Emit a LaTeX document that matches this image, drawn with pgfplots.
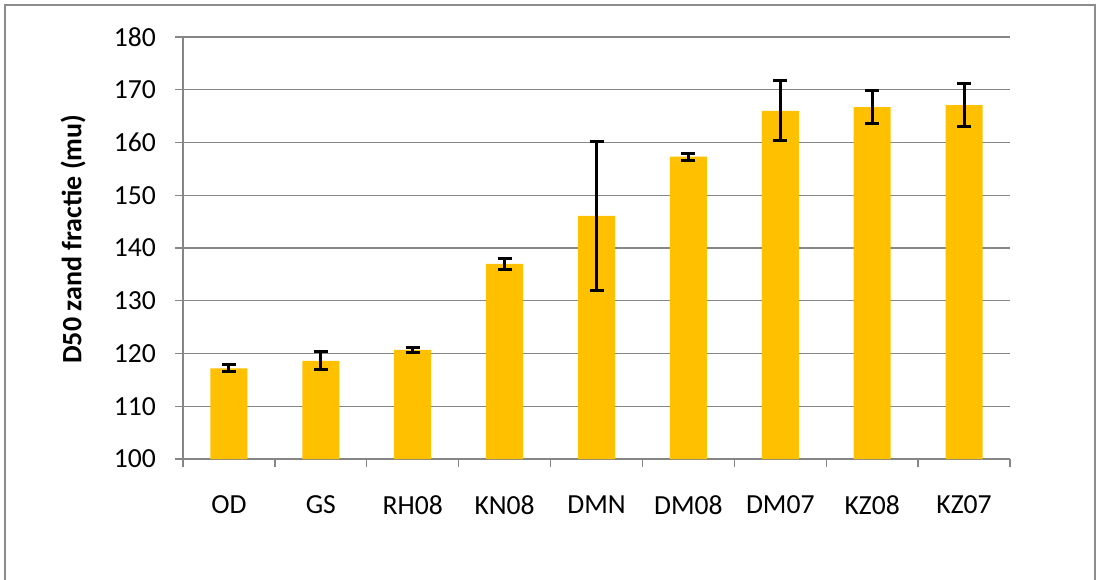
\documentclass[border=0pt]{standalone}
\usepackage{pgfplots}
\pgfplotsset{compat=1.18}
\usetikzlibrary{calc}
\usepackage{fontspec}
\setmainfont{Carlito}
\definecolor{barfill}{HTML}{FFC000}
\definecolor{gridgray}{HTML}{868686}
\definecolor{framegray}{HTML}{8C8C8C}

\begin{document}
\begin{tikzpicture}
\begin{axis}[
  scale only axis,
  width=413.5pt, height=211pt,
  xmin=0.5, xmax=9.5,
  ymin=100, ymax=180,
  ytick={100,110,...,180},
  xtick={1,...,9},
  xticklabels={OD,GS,RH08,KN08,DMN,DM08,DM07,KZ08,KZ07},
  minor xtick={0.5,1.5,...,9.5},
  major x tick style={draw=none},
  minor x tick style={gridgray, line width=0.7pt},
  y tick style={gridgray, line width=0.7pt},
  tick align=outside,
  major tick length=4pt,
  minor tick length=4pt,
  axis x line*=bottom,
  axis y line*=left,
  axis line style={gridgray, line width=0.7pt, -},
  ymajorgrids,
  grid style={gridgray, line width=0.7pt},
  /pgf/number format/assume math mode=true,
  ticklabel style={font=\fontsize{13.8pt}{15pt}\selectfont, black},
  yticklabel style={xshift=-6pt},
  xticklabel style={yshift=-11pt},
  ylabel={\bfseries D50 zand fractie (mu)},
  ylabel style={font=\fontsize{14pt}{16pt}\selectfont, at={(axis description cs:-0.133,0.521)}, anchor=center},
  clip=false,
]
\addplot[ybar, bar width=18.5pt, fill=barfill, draw=none,
  error bars/.cd, y dir=both, y explicit,
  error bar style={black, line width=1.5pt},
  error mark options={black, line width=1.5pt, mark size=3.5pt, rotate=90}]
  table[x=x, y=y, y error=e] {
  x y     e
  1 117.2 0.7
  2 118.6 1.7
  3 120.7 0.5
  4 137.0 1.1
  5 146.1 14.1
  6 157.3 0.7
  7 166.0 5.7
  8 166.7 3.1
  9 167.1 4.0
  };
\coordinate (o) at (rel axis cs:0,0);
\end{axis}
% outer chart frame, open at the bottom
\draw[framegray, line width=1pt] ($(o)+(-89pt,-62pt)$) -- ($(o)+(-89pt,227pt)$) -- ($(o)+(456pt,227pt)$) -- ($(o)+(456pt,-62pt)$);
\pgfresetboundingbox
\path[use as bounding box] ($(o)+(-91.5pt,-60pt)$) rectangle ($(o)+(459pt,229.5pt)$);
\end{tikzpicture}
\end{document}
